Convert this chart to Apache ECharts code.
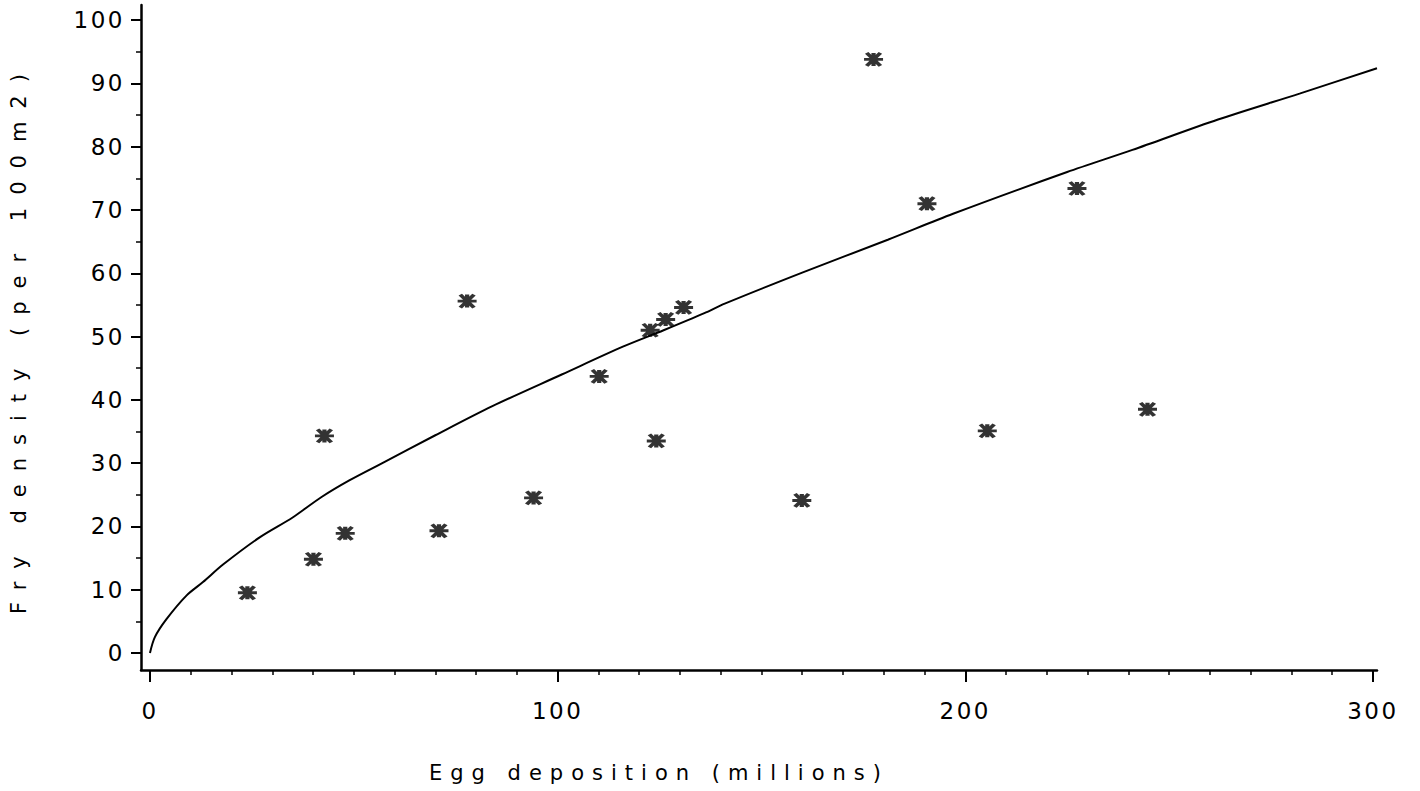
<!DOCTYPE html>
<html>
<head>
<meta charset="utf-8">
<script src="https://cdn.jsdelivr.net/npm/echarts@6/dist/echarts.min.js"></script>
<style>
  html, body { margin: 0; padding: 0; background: #fff; }
  #chart { width: 1420px; height: 791px; }
</style>
</head>
<body>
<div id="chart"></div>
<script>
// ---- data ----
const eggDeposition = [23.9, 40.1, 42.8, 47.9, 70.9, 77.8, 94.1, 110.2, 122.7, 124.2, 126.5, 130.9, 159.9, 177.5, 190.6, 205.4, 227.4, 244.7];
const fryDensity    = [9.5, 14.8, 34.3, 18.9, 19.3, 55.6, 24.5, 43.7, 51.0, 33.5, 52.7, 54.6, 24.1, 93.8, 71.0, 35.1, 73.4, 38.5];

const curveX = [0, 1.2, 4, 9, 13, 18, 27, 35, 42, 49, 57, 70, 84, 101, 116, 126, 136, 141, 160, 181, 197, 225, 241, 262, 282, 301];
const curveY = [0, 2.5, 5.3, 9.1, 11.2, 14.0, 18.3, 21.4, 24.6, 27.3, 30.0, 34.4, 39.0, 44.0, 48.4, 51.0, 53.7, 55.2, 60.1, 65.3, 69.4, 76.0, 79.5, 84.3, 88.4, 92.4];

const xMajorTicks = [0, 100, 200, 300];
const xMinorTicks = [10, 20, 30, 40, 50, 60, 70, 80, 90, 110, 120, 130, 140, 150, 160, 170, 180, 190, 210, 220, 230, 240, 250, 260, 270, 280, 290];
const yMajorTicks = [0, 10, 20, 30, 40, 50, 60, 70, 80, 90, 100];
const yMinorTicks = [5, 15, 25, 35, 45, 55, 65, 75, 85, 95];

const xTitle = 'Egg deposition (millions)';
const yTitle = 'Fry density (per 100m2)';

// ---- chart ----
const FONT = 'DejaVu Sans';
const chart = echarts.init(document.getElementById('chart'), null, { renderer: 'svg' });

const points = eggDeposition.map((x, i) => [x, fryDensity[i]]);
const curve = curveX.map((x, i) => [x, curveY[i]]);

const starPath = 'path://M0,6.5L18,6.5M2.5,0L15.5,13M15.5,0L2.5,13M9,0L9,13';

const option = {
  animation: false,
  backgroundColor: '#fff',
  grid: { left: 136, top: 5, width: 1241, height: 665, containLabel: false },
  xAxis: [
    {
      type: 'value', min: -2.2, max: 301, position: 'bottom',
      axisLine: { show: true, onZero: false, lineStyle: { color: '#000', width: 2.5 } },
      axisTick: { show: true, customValues: xMajorTicks, length: 12, lineStyle: { color: '#000', width: 2 } },
      axisLabel: { customValues: xMajorTicks, margin: 29, color: '#000', fontSize: 23, fontFamily: FONT },
      splitLine: { show: false },
      name: xTitle, nameLocation: 'middle', nameGap: 92,
      nameTextStyle: { color: '#000', fontSize: 21, fontFamily: FONT, padding: [0, 200, 0, 0] }
    },
    {
      type: 'value', min: -2.2, max: 301, position: 'bottom',
      axisLine: { show: false, onZero: false },
      axisTick: { show: true, customValues: xMinorTicks, length: 5, lineStyle: { color: '#000', width: 1.5 } },
      axisLabel: { show: false },
      splitLine: { show: false }
    }
  ],
  yAxis: [
    {
      type: 'value', min: -2.7, max: 102.4, position: 'left',
      axisLine: { show: true, onZero: false, lineStyle: { color: '#000', width: 2.5 } },
      axisTick: { show: true, customValues: yMajorTicks, length: 10, lineStyle: { color: '#000', width: 2 } },
      axisLabel: { customValues: yMajorTicks, margin: 16, color: '#000', fontSize: 23, fontFamily: FONT },
      splitLine: { show: false },
      name: yTitle, nameLocation: 'middle', nameGap: 112, nameRotate: 90,
      nameTextStyle: { color: '#000', fontSize: 21, fontFamily: FONT }
    },
    {
      type: 'value', min: -2.7, max: 102.4, position: 'left',
      axisLine: { show: false, onZero: false },
      axisTick: { show: true, customValues: yMinorTicks, length: 5, lineStyle: { color: '#000', width: 1.5 } },
      axisLabel: { show: false },
      splitLine: { show: false }
    }
  ],
  series: [
    {
      type: 'line', xAxisIndex: 0, yAxisIndex: 0,
      data: curve, showSymbol: false, smooth: 0.3,
      lineStyle: { color: '#000', width: 2 }
    },
    {
      type: 'scatter', xAxisIndex: 0, yAxisIndex: 0,
      data: points, symbol: starPath, symbolSize: [19, 13],
      itemStyle: { color: 'none', borderColor: '#000', borderWidth: 3.5 }
    }
  ]
};
chart.setOption(option);

function spaceLetters() {
  document.querySelectorAll('#chart text').forEach(t => {
    const s = t.textContent;
    if (s === xTitle) t.style.letterSpacing = '8px';
    else if (s === yTitle) t.style.letterSpacing = '13px';
    else t.style.letterSpacing = '2.5px';
  });
}
chart.on('finished', spaceLetters);
spaceLetters();
</script>
</body>
</html>
